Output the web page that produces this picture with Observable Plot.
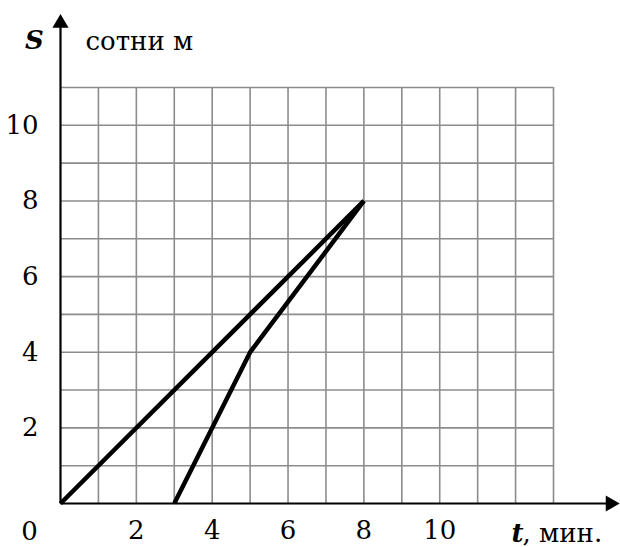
<!DOCTYPE html>
<html>
<head>
<meta charset="utf-8">
<script src="https://cdn.jsdelivr.net/npm/d3@7"></script>
<script src="https://cdn.jsdelivr.net/npm/@observablehq/plot@0.6"></script>
<style>
  html, body { margin: 0; padding: 0; background: #fff; }
</style>
</head>
<body>
<div id="chart"></div>
<script>
// Series: path S (hundreds of m) vs time t (min)
const line1T = [0, 8];
const line1S = [0, 8];
const line2T = [3, 5, 8];
const line2S = [0, 4, 8];

// Tick labels
const xTickValues = [2, 4, 6, 8, 10];
const yTickValues = [2, 4, 6, 8, 10];

// Grid cells
const gridXValues = [1, 2, 3, 4, 5, 6, 7, 8, 9, 10, 11, 12, 13];
const gridYValues = [1, 2, 3, 4, 5, 6, 7, 8, 9, 10, 11];

// Texts
const yName = "S";
const yUnit = "сотни м";
const xName = "t";
const xUnit = ", мин.";
const originLabel = "0";

// Axis arrow extents (data units)
const xAxisEnd = 14.5;
const yAxisEnd = 12.7;

const series1 = line1T.map((t, i) => ({t, s: line1S[i]}));
const series2 = line2T.map((t, i) => ({t, s: line2S[i]}));

const font = "DejaVu Serif";
const fs = 26;

const chart = Plot.plot({
  width: 620,
  height: 547,
  marginLeft: 60,
  marginRight: 67,
  marginTop: 87,
  marginBottom: 44,
  style: {fontFamily: font, fontSize: fs + "px", color: "#000", background: "#fff", overflow: "visible"},
  x: {domain: [0, 13]},
  y: {domain: [0, 11]},
  marks: [
    Plot.gridX(gridXValues, {stroke: "#8c8c8c", strokeOpacity: 1, strokeWidth: 1.6}),
    Plot.gridY(gridYValues, {stroke: "#8c8c8c", strokeOpacity: 1, strokeWidth: 1.6}),
    // axes with arrowheads
    Plot.link([0], {x1: 0, x2: xAxisEnd, y1: 0, y2: 0, stroke: "#000", strokeWidth: 2.2}),
    Plot.link([0], {x1: 0, x2: 0, y1: 0, y2: yAxisEnd, stroke: "#000", strokeWidth: 2.2}),
    Plot.dot([0], {x: xAxisEnd, y: 0, symbol: "triangle", r: 6, fill: "#000", stroke: null, rotate: 90}),
    Plot.dot([0], {x: 0, y: yAxisEnd, symbol: "triangle", r: 6, fill: "#000", stroke: null}),
    // tick labels
    Plot.axisX(xTickValues, {tickSize: 0, tickPadding: 17, fontSize: fs, fontFamily: font, label: null}),
    Plot.axisY(yTickValues, {tickSize: 0, tickPadding: 22, fontSize: fs, fontFamily: font, label: null}),
    Plot.text([originLabel], {frameAnchor: "bottom-left", dx: -31, dy: 36, lineAnchor: "bottom", textAnchor: "middle", fontSize: fs, fontFamily: font}),
    // data lines
    Plot.line(series1, {x: "t", y: "s", stroke: "#000", strokeWidth: 4.5, strokeLinecap: "butt", strokeLinejoin: "miter"}),
    Plot.line(series2, {x: "t", y: "s", stroke: "#000", strokeWidth: 4.5, strokeLinecap: "butt", strokeLinejoin: "miter"}),
    // axis names
    Plot.text([yName], {frameAnchor: "top-left", dx: -26, dy: -39, lineAnchor: "bottom", textAnchor: "middle", fontSize: fs, fontFamily: font, fontWeight: "bold", fontStyle: "italic"}),
    Plot.text([yUnit], {frameAnchor: "top-left", dx: 25, dy: -38, lineAnchor: "bottom", textAnchor: "start", fontSize: fs, fontFamily: font}),
    Plot.text([xName], {frameAnchor: "bottom-right", dx: -42, dy: 38, lineAnchor: "bottom", textAnchor: "start", fontSize: fs, fontFamily: font, fontWeight: "bold", fontStyle: "italic"}),
    Plot.text([xUnit], {frameAnchor: "bottom-right", dx: -31, dy: 38, lineAnchor: "bottom", textAnchor: "start", fontSize: fs, fontFamily: font})
  ]
});
document.getElementById("chart").appendChild(chart);
</script>
</body>
</html>
